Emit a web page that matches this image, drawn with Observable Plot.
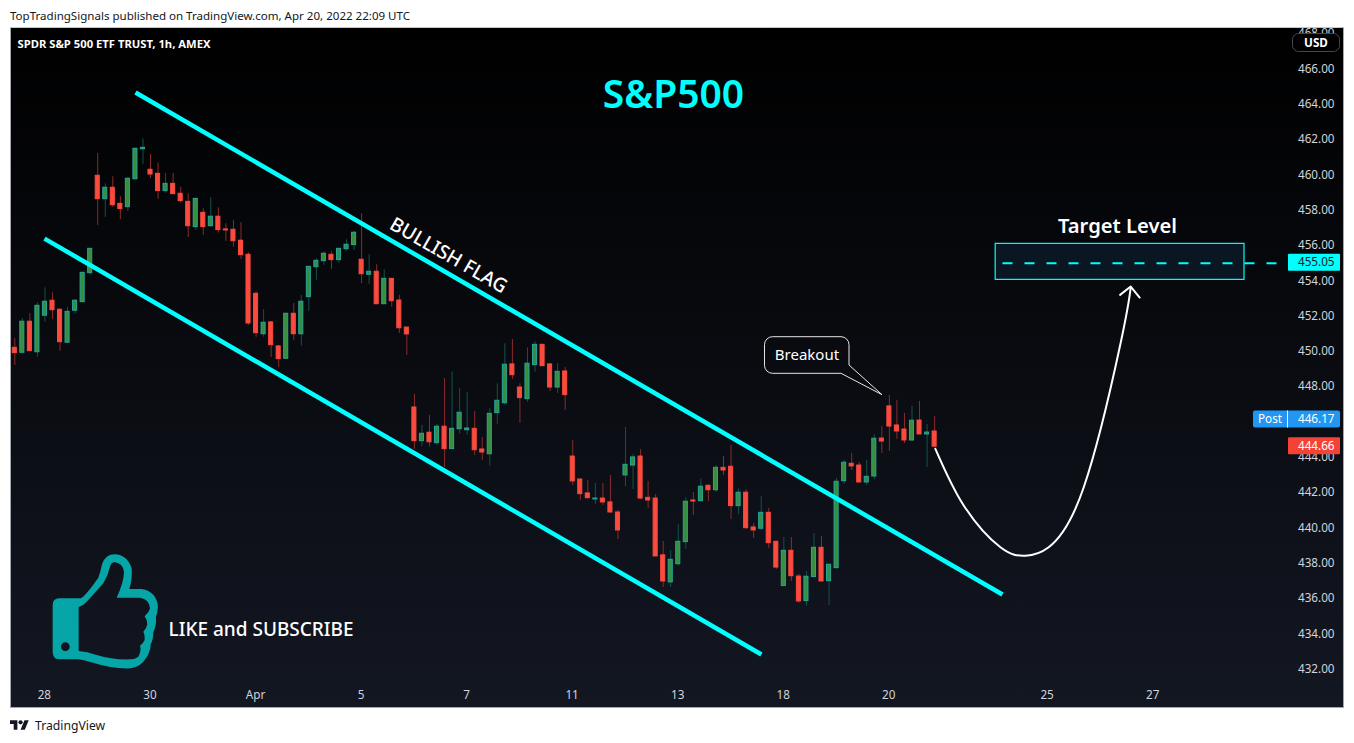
<!DOCTYPE html>
<html><head><meta charset="utf-8">
<script src="https://cdn.jsdelivr.net/npm/d3@7"></script>
<script src="https://cdn.jsdelivr.net/npm/@observablehq/plot@0.6"></script>
<style>
html,body{margin:0;padding:0;background:#fff;width:1354px;height:743px;overflow:hidden;font-family:"Noto Sans",sans-serif}
#head{position:absolute;left:10px;top:8px;font-size:11.55px;line-height:16px;color:#131722;white-space:nowrap}
#chart{position:absolute;left:10px;top:27px;width:1334px;height:681px}
#chart svg{display:block}
#frame{position:absolute;left:10px;top:27px;width:1334px;height:681px;box-sizing:border-box;border:1px solid #a3a6af;border-top-color:#c4c6cc;pointer-events:none}
#foot{position:absolute;left:10px;top:717px;height:16px;display:flex;align-items:center;color:#131722;font-size:12.2px}
#foot svg{margin-right:6px}
</style></head><body>
<div id="head">TopTradingSignals published on TradingView.com, Apr 20, 2022 22:09 UTC</div>
<div id="chart"></div>
<div id="frame"></div>
<div id="foot"><svg width="19" height="15" viewBox="0 0 36 28"><path fill="#131722" d="M14 22H7V11H0V4h14v18zM28 22h-8l7.5-18h8L28 22z"/><circle fill="#131722" cx="20" cy="8" r="4"/></svg>TradingView</div>
<script>
const opens=[450.26,449.98,451.74,450.01,452.08,452.93,452.42,450.55,452.36,452.85,454.49,460.01,458.68,459.33,458.42,458.23,459.81,461.51,460.35,460.12,
459.14,459.55,458.99,458.53,457.10,457.91,457.15,457.69,456.97,456.95,
456.33,455.53,453.32,451.03,451.70,450.34,449.64,452.19,451.03,453.13,
454.83,455.17,455.53,455.23,455.85,456.08,455.25,454.40,454.57,452.73,
454.17,452.94,451.41,446.88,444.97,445.45,444.86,445.79,444.52,445.65,
445.59,445.67,444.50,444.23,446.56,447.12,449.32,448.01,447.35,449.28,
450.43,449.32,448.01,448.92,444.10,442.80,442.01,441.67,441.72,441.50,
440.93,443.03,443.59,444.10,441.76,441.72,438.50,436.97,438.00,439.25,
441.61,441.57,442.44,442.19,443.46,443.52,441.29,442.05,440.08,440.01,
440.91,439.27,436.76,438.76,437.30,435.91,437.27,438.93,437.04,437.78,
442.70,443.69,443.59,442.63,442.97,445.12,446.94,445.86,445.63,445.01,
446.14,445.35,445.52];
const closes=[449.96,451.74,450.07,452.64,452.87,452.39,450.58,452.30,452.93,454.51,455.87,458.68,459.33,458.34,458.12,459.84,461.54,461.59,460.08,459.14,
459.55,458.97,458.57,457.15,458.70,457.10,457.69,456.93,456.91,456.30,
455.51,451.64,451.09,451.68,450.41,449.62,452.19,451.03,452.87,454.85,
455.19,455.59,455.23,455.87,456.10,456.78,454.43,454.57,452.73,454.17,
452.90,451.37,451.02,444.97,445.39,444.91,445.79,444.52,445.67,446.58,
445.69,444.46,444.33,446.52,447.26,449.30,448.71,447.41,449.36,450.43,
449.22,448.01,448.90,447.58,442.69,441.97,441.74,441.72,441.50,440.93,
439.91,443.63,444.05,441.72,441.61,438.44,437.02,438.25,439.27,441.54,
441.55,442.39,442.19,443.46,443.31,441.29,442.05,440.04,439.91,440.91,
439.19,437.81,438.76,437.32,435.89,437.29,438.93,437.02,437.97,442.67,
443.75,443.54,442.63,442.95,445.11,444.95,445.80,445.52,445.01,446.13,
445.35,445.46,444.66];
const highs=[450.79,451.92,452.21,452.81,453.66,453.38,452.42,452.55,452.98,454.53,455.89,461.27,459.55,459.95,458.83,459.89,461.54,462.10,461.21,460.74,
460.14,460.14,459.35,458.99,458.70,458.14,458.76,458.19,457.29,457.48,
457.35,455.65,453.45,452.43,451.75,450.39,452.19,452.77,453.23,454.85,
455.31,455.70,455.70,455.89,456.38,456.87,457.85,455.53,454.97,454.68,
454.19,453.23,451.41,447.62,445.86,446.43,445.92,448.52,448.90,447.94,
447.73,446.65,445.18,446.81,448.22,450.49,450.73,448.22,450.26,450.60,
450.45,449.37,449.37,449.15,445.01,442.80,442.74,442.57,442.57,443.03,
441.05,445.75,444.22,444.50,442.69,441.95,439.29,438.78,440.25,441.76,
442.06,442.84,442.50,443.58,444.10,444.73,442.27,442.22,440.31,441.84,
441.16,439.29,439.51,439.51,437.42,437.59,439.74,439.57,437.98,442.86,
443.88,444.27,443.76,443.88,445.35,445.80,447.56,447.28,446.54,446.94,
447.22,445.92,446.37];
const lows=[449.26,449.96,450.05,449.73,451.71,451.87,450.07,450.52,452.17,452.79,454.38,457.19,457.65,458.21,457.53,457.99,459.80,460.65,459.85,458.67,
459.02,458.91,458.46,456.51,456.91,456.63,457.10,456.76,456.29,455.96,
455.27,451.53,450.86,450.86,449.71,449.15,449.62,450.68,450.35,452.32,
454.09,454.93,454.70,455.04,455.74,455.78,453.90,453.85,452.73,452.73,
452.55,451.07,449.83,444.50,444.67,444.63,444.73,443.48,444.52,445.37,
445.29,444.16,443.88,443.55,445.93,447.01,448.47,445.99,447.18,448.88,
449.22,447.79,447.67,446.71,442.46,441.61,441.72,441.38,441.33,440.88,
439.40,442.40,442.23,441.67,441.16,438.44,436.68,436.68,437.87,438.84,
440.76,441.55,441.55,442.06,443.03,440.53,440.82,439.97,439.46,439.91,
438.89,437.70,436.76,437.02,435.78,435.61,437.27,437.02,435.66,437.70,
442.52,443.31,442.63,442.46,442.80,444.27,444.39,445.07,444.84,444.95,
445.35,443.48,444.61];

const priceTicks=[432,434,436,438,440,442,444,446,448,450,452,454,456,458,460,462,464,466,468];
const dayTickIndex=[4,18,32,46,60,74,88,102,116,137,151];
const dayTickLabels=["28","30","Apr","5","7","11","13","18","20","25","27"];

const channelUpperIndex=[16.01,131.0], channelUpperPrice=[464.73,436.28];
const channelLowerIndex=[3.94,99.03], channelLowerPrice=[456.45,432.88];
const arcIndex=[122.1,125.86,130.73,134.04,137.13,141.78,146.65,148.01];
const arcPrice=[444.54,441.33,438.96,438.48,438.96,442.36,450.49,453.69];
const arrowIndex=[146.6,148.01,149.2], arrowPrice=[453.26,453.73,453.11];
const targetIndex=[130.1,163.1], targetPrice=[454.11,456.15];
const targetLevel=455.05, targetLineIndex=[131,168.13];
const priceTags=[
  {price:455.05,label:"455.05",fill:"#00ffff",color:"#131722"},
  {price:444.66,label:"444.66",fill:"#f44336",color:"#fff"}
];
const postPrice=446.17;

const candles=opens.map((o,i)=>({i,o,c:closes[i],h:highs[i],l:lows[i],up:closes[i]>=o}));
const FONT='"Noto Sans",sans-serif';

const chart=Plot.plot({
  width:1334,height:681,
  marginTop:0,marginBottom:28,marginLeft:0,marginRight:51,
  style:{background:"linear-gradient(#000000,#131722)",fontFamily:FONT,overflow:"hidden"},
  x:{domain:[-0.57,169.6],axis:null},
  y:{domain:[431.41,468.41],axis:null},
  marks:[
    Plot.axisX({ticks:dayTickIndex,tickFormat:d=>dayTickLabels[dayTickIndex.indexOf(d)],tickSize:0,tickPadding:10,anchor:"bottom",fontSize:11.7,color:"#d1d4dc",label:null,dx:-0.6}),
    Plot.axisY({ticks:priceTicks,tickFormat:d=>d.toFixed(2),tickSize:0,tickPadding:4.5,anchor:"right",fontSize:11.7,color:"#d1d4dc",label:null,dy:-1}),
    // target box
    Plot.rect([0],{x1:()=>targetIndex[0],x2:()=>targetIndex[1],y1:()=>targetPrice[0],y2:()=>targetPrice[1],fill:"#0a1622",stroke:"#00ffff",strokeWidth:1.2}),
    Plot.line(targetLineIndex.map((x,k)=>({x,y:targetLevel})),{x:"x",y:"y",stroke:"#00ffff",strokeWidth:2,strokeDasharray:"10 12",strokeLinecap:"butt"}),
    // candles
    Plot.ruleX(candles,{x:"i",y1:"l",y2:"h",stroke:d=>d.up?"#10534c":"#8a2b2b",strokeWidth:1}),
    Plot.rect(candles,{x1:d=>d.i-0.27,x2:d=>d.i+0.27,y1:d=>Math.min(d.o,d.c),y2:d=>Math.max(d.o,d.c),fill:d=>d.up?"#388e3c":"#fb4a3e",stroke:d=>d.up?"#26a69a":"#fb4a3e",strokeWidth:1}),
    // channel
    Plot.line(channelUpperIndex.map((x,k)=>({x,y:channelUpperPrice[k]})),{x:"x",y:"y",stroke:"#00ffff",strokeWidth:4.5,strokeLinecap:"butt"}),
    Plot.line(channelLowerIndex.map((x,k)=>({x,y:channelLowerPrice[k]})),{x:"x",y:"y",stroke:"#00ffff",strokeWidth:4.5,strokeLinecap:"butt"}),
    // arc
    Plot.line(arcIndex.map((x,k)=>({x,y:arcPrice[k]})),{x:"x",y:"y",stroke:"#fff",strokeWidth:2,curve:"natural"}),
    Plot.line(arrowIndex.map((x,k)=>({x,y:arrowPrice[k]})),{x:"x",y:"y",stroke:"#fff",strokeWidth:2}),
    // texts
    Plot.text(["S&P500"],{x:87.36,y:464.53,text:d=>d,fill:"#00ffff",fontSize:39,fontWeight:600,textAnchor:"middle"}),
    Plot.text(["Target Level"],{x:146.25,y:457.13,text:d=>d,fill:"#fff",fontSize:20.2,fontWeight:600,textAnchor:"middle"}),
    Plot.text(["BULLISH FLAG"],{x:57.52,y:455.49,text:d=>d,fill:"#fff",fontSize:19.4,fontWeight:500,rotate:30,textAnchor:"middle"}),
    Plot.text(["LIKE and SUBSCRIBE"],{x:20.39,y:434.3,text:d=>d,fill:"#fff",fontSize:19,fontWeight:500,textAnchor:"start"}),
    Plot.text(["Breakout"],{x:105.07,y:449.82,text:d=>d,fill:"#fff",fontSize:15,textAnchor:"middle"}),
    Plot.text(["SPDR S&P 500 ETF TRUST, 1h, AMEX"],{x:0.36,y:467.47,text:d=>d,fill:"#fff",fontSize:11.25,fontWeight:700,textAnchor:"start"}),
    // callout & icon & tags
    ()=>{
      const g=d3.create("svg:g");
      g.append("path").attr("transform","translate(-10,-27)")
       .attr("d","M772.5 336.7H841a8 8 0 0 1 8 8V365L882 394.7L841 373.3H772.5a8 8 0 0 1 -8 -8V344.7a8 8 0 0 1 8 -8Z")
       .attr("fill","none").attr("stroke","#e6e6e6").attr("stroke-width",1);
      g.append("path").attr("transform","translate(30,518) scale(0.3333)").attr("fill-rule","evenodd").attr("fill","#05a5a8")
       .attr("d","M38 180Q38 160 58 160L122 160Q135 155 175 98Q182 80 186 58Q196 28 224 28Q262 30 275 70Q278 100 268 132L305 132Q350 140 354 185Q352 205 348 215Q350 240 340 262Q340 285 332 298Q332 320 318 340Q300 368 272 370Q215 372 165 355Q130 345 115 343L60 343Q38 343 38 320Z"+
       "M116 186Q130 182 145 165L190 115Q205 90 210 65Q215 50 225 52Q248 55 252 80Q252 110 230 158L300 158Q328 162 330 190Q328 200 314 214Q322 225 322 238Q320 250 310 260Q316 270 314 285Q310 295 300 302Q305 315 295 335Q285 343 270 343Q220 345 170 330Q140 320 116 318Z"+
       "M89 305a13 13 0 1 1 -26 0a13 13 0 1 1 26 0Z");
      return g.node();
    },
    (index,scales)=>{
      const g=d3.create("svg:g").attr("font-size",11.7).attr("font-family",FONT).attr("text-anchor","start");
      const y=scales.y;
      for(const t of priceTags){
        const cy=y(t.price)-0.5;
        g.append("rect").attr("x",1278).attr("y",cy-8.5).attr("width",52).attr("height",17).attr("rx",1).attr("fill",t.fill);
        g.append("text").attr("x",1288).attr("y",cy+4.2).attr("fill",t.color).text(t.label);
      }
      const py=y(postPrice)-0.5;
      g.append("rect").attr("x",1243).attr("y",py-8.5).attr("width",87).attr("height",17).attr("rx",2).attr("fill","#2196f3");
      g.append("line").attr("x1",1277.5).attr("x2",1277.5).attr("y1",py-8.5).attr("y2",py+8.5).attr("stroke","#fff");
      g.append("text").attr("x",1248).attr("y",py+4.2).attr("fill","#fff").text("Post");
      g.append("text").attr("x",1288).attr("y",py+4.2).attr("fill","#fff").text(postPrice.toFixed(2));
      g.append("rect").attr("x",1282.5).attr("y",6.5).attr("width",47).attr("height",18).attr("rx",6).attr("fill","#000").attr("stroke","#434651");
      g.append("text").attr("x",1306).attr("y",20).attr("text-anchor","middle").attr("font-weight",700).attr("fill","#fff").text("USD");
      return g.node();
    }
  ]
});
document.getElementById("chart").append(chart);
</script>
</body></html>
